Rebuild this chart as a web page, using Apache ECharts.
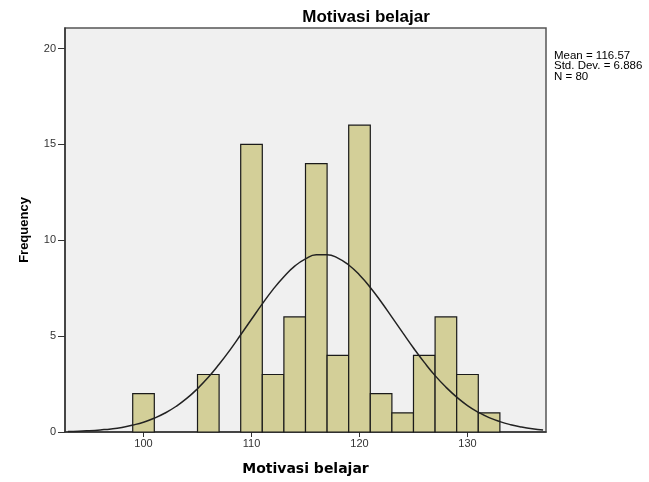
<!DOCTYPE html>
<html>
<head>
<meta charset="utf-8">
<script src="https://cdn.jsdelivr.net/npm/echarts@6/dist/echarts.min.js"></script>
<style>html,body{margin:0;padding:0;background:#fff;}#c{width:649px;height:482px;}</style>
</head>
<body>
<div id="c"></div>
<script>
// Histogram bins (lower bound of each bin, width 2)
const binStarts = [99, 105, 109, 111, 113, 115, 117, 119, 121, 123, 125, 127, 129, 131];
const counts    = [2,  3,   15,  3,   6,   14,  4,   16,  2,   1,   4,   6,   3,   1];
const binWidth = 2;
// Normal curve overlay
const curveX = [93,94,95,96,97,98,99,100,101,102,103,104,105,106,107,108,109,110,111,112,113,114,115,116,117,118,119,120,121,122,123,124,125,126,127,128,129,130,131,132,133,134,135,136,137];
const curveY = [0.03,0.04,0.07,0.11,0.16,0.24,0.36,0.51,0.72,0.99,1.33,1.75,2.26,2.85,3.53,4.27,5.07,5.88,6.68,7.44,8.10,8.65,9.03,9.24,9.25,9.07,8.71,8.19,7.54,6.79,5.99,5.18,4.38,3.63,2.94,2.34,1.82,1.38,1.03,0.75,0.54,0.38,0.26,0.17,0.11];
const xTicks = [100, 110, 120, 130];
const yTicks = [0, 5, 10, 15, 20];
const statsLines = ['Mean = 116.57', 'Std. Dev. = 6.886', 'N = 80'];

const chart = echarts.init(document.getElementById('c'), null, {renderer: 'canvas'});
const font = 'Liberation Sans, Arial, sans-serif';
chart.setOption({
  animation: false,
  backgroundColor: '#ffffff',
  title: {
    text: 'Motivasi belajar',
    left: 361, top: 4, textAlign: 'center',
    textStyle: {fontFamily: font, fontSize: 17, fontWeight: 'bold', color: '#000'}
  },
  grid: {left: 65, right: 103, top: 28, bottom: 50, show: true, backgroundColor: '#f0f0f0', borderColor: '#555', borderWidth: 1.5},
  xAxis: {
    type: 'value', min: 92.73, max: 137.27,
    interval: 10,
    name: 'Motivasi belajar', nameLocation: 'middle', nameGap: 30,
    nameTextStyle: {fontFamily: 'DejaVu Sans, sans-serif', fontSize: 14, fontWeight: 'bold', color: '#000'},
    axisLine: {show: true, lineStyle: {color: '#333', width: 1.5}},
    axisTick: {show: true, length: 5, inside: false, lineStyle: {color: '#333'}, customValues: xTicks},
    axisLabel: {fontFamily: font, fontSize: 11, color: '#333', margin: 6, customValues: xTicks},
    splitLine: {show: false}
  },
  yAxis: {
    type: 'value', min: 0, max: 21.07, interval: 5,
    name: 'Frequency', nameLocation: 'middle', nameGap: 34, nameRotate: 90,
    nameTextStyle: {fontFamily: font, fontSize: 13, fontWeight: 'bold', color: '#000'},
    axisLine: {show: true, lineStyle: {color: '#333', width: 1.5}},
    axisTick: {show: true, length: 7, lineStyle: {color: '#333'}, customValues: yTicks},
    axisLabel: {fontFamily: font, fontSize: 11, color: '#333', margin: 9, customValues: yTicks},
    splitLine: {show: false}
  },
  graphic: statsLines.map((t, i) => ({
    type: 'text', left: 554, top: 49.5 + i * 10.8,
    style: {text: t, fontFamily: font, fontSize: 11.5, fill: '#000'}
  })),
  series: [
    {
      type: 'custom',
      data: binStarts.map((b, i) => [b, counts[i]]),
      renderItem: function (params, api) {
        const x0 = api.value(0);
        const p0 = api.coord([x0, 0]);
        const p1 = api.coord([x0 + binWidth, api.value(1)]);
        return {
          type: 'rect',
          shape: {x: p0[0], y: p1[1], width: p1[0] - p0[0], height: p0[1] - p1[1]},
          style: {fill: '#d3cf98', stroke: '#1a1a1a', lineWidth: 1.2}
        };
      },
      z: 2
    },
    {
      type: 'line',
      data: curveX.map((x, i) => [x, curveY[i]]),
      smooth: true, showSymbol: false,
      lineStyle: {color: '#222', width: 1.5},
      z: 3
    }
  ]
});
</script>
</body>
</html>
